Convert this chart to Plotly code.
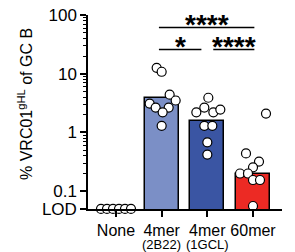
import math
import plotly.graph_objects as go

# ---------------- data ----------------
categories = ["None", "4mer", "4mer", "60mer"]
sublabels = ["", "(2B22)", "(1GCL)", ""]
bar_values = [None, 3.8, 1.55, 0.195]
bar_colors = ["#ffffff", "#7b8fc6", "#3a55a3", "#ec2a24"]

pts_none = [0.05, 0.05, 0.05, 0.05, 0.05, 0.05]
pts_2b22 = [12.6, 10.8, 4.4, 3.5, 3.1, 2.65, 2.65, 2.2, 1.3]
pts_1gcl = [3.9, 2.65, 2.2, 2.2, 2.45, 1.3, 1.3, 0.68, 0.42]
pts_60mer = [2.1, 0.44, 0.32, 0.255, 0.20, 0.20, 0.155, 0.155, 0.056]

# horizontal spread of the dots (pixels from the group centre)
jit_none = [-15, -9, -3, 3, 9, 15]
jit_2b22 = [-5, 0, 8, 14, -12, -6, 7, 1, 0]
jit_1gcl = [1, -3, -11, 6, 13, -3, 5, 0, 0]
jit_60mer = [13, -7, 6, 0, -13, -5, 0, 7, 0]

lod = 0.05
y_tickvals = [0.05, 0.1, 1, 10, 100]
y_ticktext = ["LOD", "0.1", "1", "10", "100"]

# comparisons: (group a, group b, label, level)
comparisons = [(1, 3, "****", 0), (1, 2, "*", 1), (2, 3, "****", 1)]

# ---------------- layout constants ----------------
PAGE_OFF = 8                      # default body margin of the html page
W, H = 287, 244
plot_w, plot_h = 194, 194
ml, mt = 88 - PAGE_OFF, 15 - PAGE_OFF
mr, mb = W - ml - plot_w, H - mt - plot_h
xr = [-0.613, 3.635]
px_per_unit = plot_w / (xr[1] - xr[0])
FONT = "Liberation Sans, Arial, sans-serif"
plot_bottom_page = 15 + plot_h

groups = [pts_none, pts_2b22, pts_1gcl, pts_60mer]
jits = [jit_none, jit_2b22, jit_1gcl, jit_60mer]

fig = go.Figure()
fig.add_trace(go.Bar(
    x=list(range(len(categories))), y=bar_values, width=0.75,
    marker=dict(color=bar_colors, line=dict(color="black", width=1.5)),
    showlegend=False,
))
for i, (vals, jit) in enumerate(zip(groups, jits)):
    fig.add_trace(go.Scatter(
        x=[i + j / px_per_unit for j in jit], y=vals, mode="markers",
        marker=dict(size=9, color="white", line=dict(color="black", width=1.2)),
        cliponaxis=False, showlegend=False,
    ))

minor_vals = [m * 10 ** e for e in range(-1, 2) for m in range(2, 10)]

fig.update_layout(
    width=W, height=H, margin=dict(l=ml, r=mr, t=mt, b=mb, autoexpand=False),
    paper_bgcolor="white", plot_bgcolor="white",
    font=dict(family=FONT, color="black", size=16),
    bargap=0,
    xaxis=dict(range=xr, tickvals=list(range(len(categories))), ticktext=categories,
               tickangle=0,
               showline=True, linecolor="black", linewidth=1.5, ticks="outside",
               ticklen=6, tickwidth=1.5, tickcolor="black", showgrid=False,
               zeroline=False, tickfont=dict(size=16), automargin=False,
               layer="above traces"),
    yaxis=dict(type="log", range=[math.log10(lod) - 0.002, 2], tickvals=y_tickvals,
               ticktext=y_ticktext, ticklabeloverflow="allow",
               showline=True, linecolor="black", linewidth=1.5, ticks="outside",
               ticklen=6, tickwidth=1.5, tickcolor="black", showgrid=False,
               zeroline=False, tickfont=dict(size=17), automargin=False,
               layer="above traces",
               minor=dict(tickvals=minor_vals, ticks="outside", ticklen=3.5,
                          tickwidth=1, tickcolor="black", showgrid=False)),
)

# second line of the category labels
for i, s in enumerate(sublabels):
    if s:
        fig.add_annotation(text=s, xref="x", yref="paper", x=i,
                           y=(plot_bottom_page - 244) / plot_h, showarrow=False,
                           font=dict(size=13), xanchor="center", yanchor="middle")

# y-axis title
fig.add_annotation(text="% VRC01<sup>gHL</sup> of GC B", textangle=-90,
                   xref="paper", yref="paper", x=(25 - 88) / plot_w,
                   y=(plot_bottom_page - 104) / plot_h, showarrow=False,
                   font=dict(size=16), xanchor="center", yanchor="middle")

# significance brackets (page pixel heights)
level_px = [27.5, 49.5]
gap = 0.13
for a, b, lab, lev in comparisons:
    shared_left = any(c[1] == a and c[3] == lev for c in comparisons)
    shared_right = any(c[0] == b and c[3] == lev for c in comparisons)
    x0 = a - 0.06 + (gap + 0.06 if shared_left else 0)
    x1 = b + 0.03 - (gap + 0.03 if shared_right else 0)
    yv = (plot_bottom_page - level_px[lev]) / plot_h
    fig.add_shape(type="line", xref="x", yref="paper", x0=x0, x1=x1, y0=yv, y1=yv,
                  line=dict(color="black", width=1.5))
    fig.add_annotation(text=lab, xref="x", yref="paper", x=(x0 + x1) / 2, y=yv,
                       showarrow=False, yanchor="bottom", yshift=-14,
                       font=dict(size=28, family=FONT, weight="bold"))

fig.write_html("out.html")
